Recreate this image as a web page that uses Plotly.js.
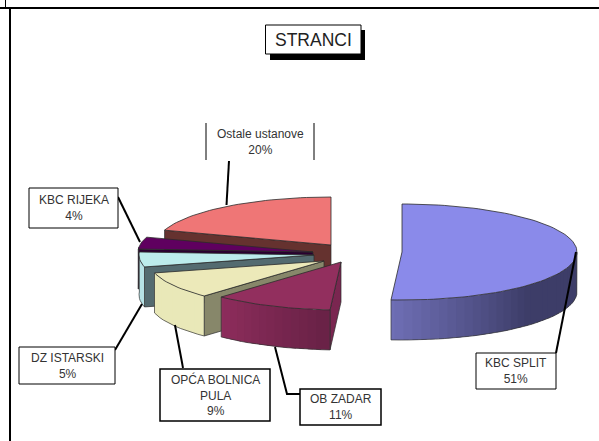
<!DOCTYPE html>
<html>
<head>
<meta charset="utf-8">
<script src="https://cdn.plot.ly/plotly-3.0.1.min.js"></script>
<style>html,body{margin:0;padding:0;background:#fff}#c{width:599px;height:441px}</style>
</head>
<body>
<div id="c"></div>
<script>
// Data
const categories = ["KBC SPLIT", "OB ZADAR", "OPĆA BOLNICA<br>PULA", "DZ ISTARSKI", "KBC RIJEKA", "Ostale ustanove"];
const values = [51, 11, 9, 5, 4, 20];
const chartTitle = "STRANCI";

// Style / layout
const topColors  = ["#8a8aea", "#922f5e", "#ece9b9", "#bcecec", "#5f005f", "#ef7676"];
const wallColors = [null, "#7a2650", "#87876a", "#546b70", "#2a0030", "#65322f"];
const rimFrom    = ["#7272ba", "#912e5e", "#e9e8b8", "#b6e2e6", "#3a0a4a", "#65322f"];
const rimTo      = ["#3d3d68", "#6a2247", "#e9e8b8", "#b6e2e6", "#3a0a4a", "#65322f"];
const centerX = [402, 341, 324, 314, 313, 331];
const centerY = [252, 262, 261, 255, 252, 245];
const rx = 175, ry = 48, depth = 40;
const boxes = [
  [476, 353, 556, 389], [300, 389, 381, 425], [160, 369, 270, 421],
  [19, 347, 115, 384], [29, 188, 118, 228], [206, 123, 314, 160]
];
const leaders = [
  [[556,353],[576,252]],
  [[300,394],[287,394],[275,347]],
  [[183,368],[175,325]],
  [[115,350],[142,304]],
  [[118,197],[140,242]],
  [[229,161],[226.5,205]]
];

function pt(i, deg, dy) {
  const t = deg * Math.PI / 180;
  return [centerX[i] + rx * Math.sin(t), centerY[i] - ry * Math.cos(t) + (dy || 0)];
}
function hex(c){return [1,3,5].map(k=>parseInt(c.substr(k,2),16));}
function mix(a,b,f){const A=hex(a),B=hex(b);return "rgb("+A.map((v,k)=>Math.round(v+(B[k]-v)*f)).join(",")+")";}
function poly(points, fill, lineColor, lineWidth) {
  return {
    type:"scatter", mode:"lines", hoverinfo:"skip", showlegend:false, fill:"toself", fillcolor:fill,
    x:points.map(p=>p[0]).concat(points[0][0]), y:points.map(p=>p[1]).concat(points[0][1]),
    line:{color:lineColor||fill, width:lineWidth===undefined?0:lineWidth}
  };
}
const total = values.reduce((a,b)=>a+b,0);
const starts = []; let acc = 0;
values.forEach(v=>{starts.push(acc/total*360); acc+=v;});

const order = [5,4,3,2,1,0];
const traces = [];
order.forEach(i=>{
  const a0 = starts[i], a1 = a0 + values[i]/total*360;
  // radial wall on the start side
  if (wallColors[i]) {
    const e = pt(i,a0);
    traces.push(poly([[centerX[i],centerY[i]], e, [e[0],e[1]+depth], [centerX[i],centerY[i]+depth]], wallColors[i], "#2b2b2b", 0.7));
  }
  // outer rim as shaded strips; each strip runs under the next one so no seams show
  const r0 = Math.max(a0,90), r1 = Math.min(a1,276);
  if (r1 > r0) {
    const n = Math.max(2, Math.ceil((r1-r0)/3));
    const step = (r1-r0)/n;
    for (let k=n-1;k>=0;k--){
      const s = r0+step*k, e = Math.min(r1, s+step*1.6);
      const f = i===0 ? Math.min(1, (r1-s)/(r1-r0)*1.8) : (r1-s)/(r1-r0);
      const pts=[]; for(let q=0;q<=3;q++){pts.push(pt(i,s+(e-s)*q/3));}
      for(let q=3;q>=0;q--){pts.push(pt(i,s+(e-s)*q/3,depth));}
      traces.push(poly(pts, mix(rimFrom[i],rimTo[i],f)));
    }
    const low=[]; for(let k=0;k<=n;k++){low.push(pt(i,r0+step*k,depth));}
    low.unshift(pt(i,r0));
    low.push(pt(i,r1));
    traces.push({type:"scatter",mode:"lines",hoverinfo:"skip",showlegend:false,
      x:low.map(p=>p[0]),y:low.map(p=>p[1]),line:{color:"#333",width:0.7}});
  }
  // top face
  const top=[[centerX[i],centerY[i]]];
  const steps=Math.ceil((a1-a0)/2);
  for(let k=0;k<=steps;k++){top.push(pt(i,a0+(a1-a0)*k/steps));}
  traces.push(poly(top, topColors[i], "#2b2b2b", 0.8));
});

const shapes = [
  // page frame
  {type:"line",x0:0,x1:599,y0:8,y1:8,line:{color:"#000",width:2}},
  {type:"line",x0:10,x1:10,y0:8,y1:441,line:{color:"#000",width:2}},
  {type:"line",x0:5.5,x1:5.5,y0:0,y1:8,line:{color:"#000",width:1}},
  // title box and its shadow
  {type:"rect",x0:270,x1:365,y0:30,y1:60,fillcolor:"#000",line:{width:0}},
  {type:"rect",x0:265.5,x1:361,y0:25,y1:54,fillcolor:"#fff",line:{color:"#000",width:1}}
];
const annotations = [{
  x:313,y:40,xref:"x",yref:"y",text:chartTitle,showarrow:false,
  font:{family:"Liberation Sans, Arial, sans-serif",size:17.5,color:"#222"}
}];
categories.forEach((c,i)=>{
  const b = boxes[i];
  if (i===5) {
    shapes.push({type:"line",x0:b[0],x1:b[0],y0:b[1],y1:b[3],line:{color:"#000",width:1}});
    shapes.push({type:"line",x0:b[2],x1:b[2],y0:b[1],y1:b[3],line:{color:"#000",width:1}});
  } else {
    shapes.push({type:"rect",x0:b[0],x1:b[2],y0:b[1],y1:b[3],fillcolor:"#fff",line:{color:"#000",width:(i===1||i===2)?1.5:1}});
  }
  annotations.push({
    x:(b[0]+b[2])/2,y:(b[1]+b[3])/2,xref:"x",yref:"y",showarrow:false,align:"center",
    text:c+"<br>"+values[i]+"%",
    font:{family:"Liberation Sans, Arial, sans-serif",size:12,color:"#333"}
  });
  const L = leaders[i];
  traces.push({type:"scatter",mode:"lines",hoverinfo:"skip",showlegend:false,
    x:L.map(p=>p[0]),y:L.map(p=>p[1]),line:{color:"#000",width:2}});
});

Plotly.newPlot("c", traces, {
  width:599,height:441,margin:{l:0,r:0,t:0,b:0},
  paper_bgcolor:"#fff",plot_bgcolor:"#fff",showlegend:false,
  xaxis:{range:[0,599],visible:false,fixedrange:true},
  yaxis:{range:[441,0],visible:false,fixedrange:true},
  shapes:shapes,annotations:annotations
},{displayModeBar:false,staticPlot:true});
</script>
</body>
</html>
